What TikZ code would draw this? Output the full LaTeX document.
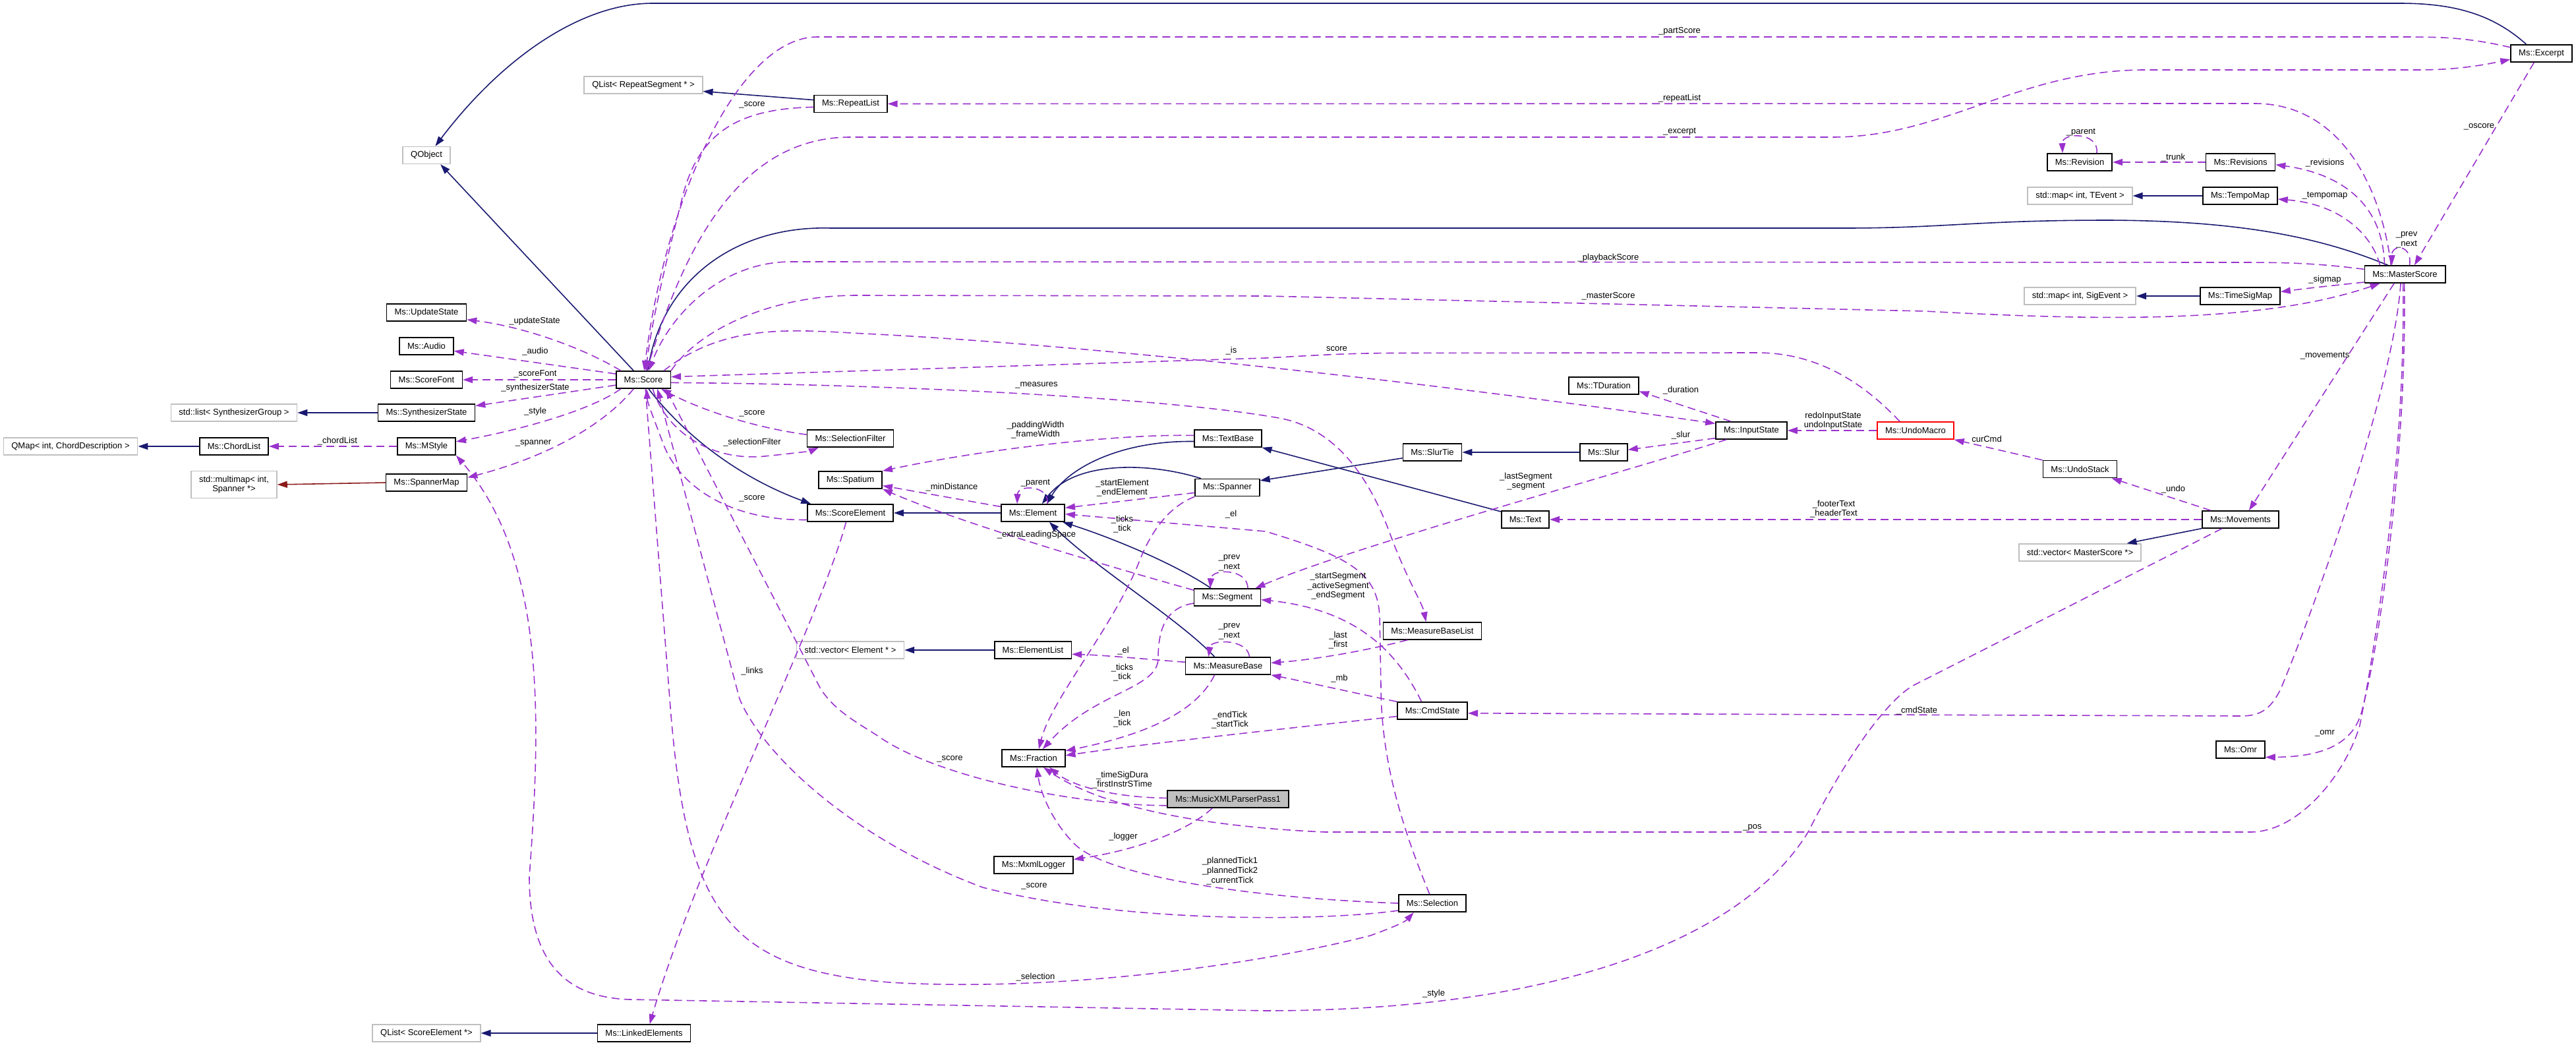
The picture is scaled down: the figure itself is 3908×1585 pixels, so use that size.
\documentclass[tikz,border=0pt]{standalone}
\usepackage{fontspec}
\setmainfont{Liberation Sans}
\usetikzlibrary{arrows.meta}
\definecolor{inhblue}{HTML}{191970}
\definecolor{usepurple}{HTML}{9A32CD}
\definecolor{privred}{HTML}{8B1A1A}
\definecolor{extgray}{HTML}{BFBFBF}
\definecolor{focusgray}{HTML}{BFBFBF}
\newcommand{\dgfont}{\fontsize{3.7}{4.15}\selectfont}

\begin{document}
\begin{tikzpicture}[x=0.01cm,y=-0.01cm,
  cls/.style={draw=black,fill=white,line width=0.45pt,font=\dgfont,inner xsep=0.12cm,inner ysep=0pt,minimum height=0.26cm},
  extcls/.style={cls,draw=extgray},
  inh/.style={draw=inhblue,line width=0.45pt,-{Triangle[length=0.15cm,width=0.1cm]}},
  priv/.style={inh,draw=privred},
  uses/.style={draw=usepurple,line width=0.45pt,dash pattern=on 0.12cm off 0.07cm,-{Triangle[length=0.15cm,width=0.1cm]}},
  lbl/.style={font=\dgfont,align=center,inner sep=0pt}]
  \useasboundingbox (0,0) rectangle (3908,1585);
  \fill[white] (0,0) rectangle (3908,1585);

  \node[extcls] (qobject) at (647,235.5) {QObject};
  \node[extcls] (qlistrep) at (976,129) {QList< RepeatSegment * >};
  \node[extcls] (listsynth) at (355,626) {std::list< SynthesizerGroup >};
  \node[extcls] (qmapchord) at (107,677) {QMap< int, ChordDescription >};
  \node[extcls,minimum height=0.41cm,align=center] (multimap) at (355,735) {std::multimap< int,\\Spanner *>};
  \node[extcls] (vecelem) at (1290,986) {std::vector< Element * >};
  \node[extcls] (qlistse) at (647,1567) {QList< ScoreElement *>};
  \node[extcls] (maptempo) at (3155.5,297) {std::map< int, TEvent >};
  \node[extcls] (mapsig) at (3155.5,449) {std::map< int, SigEvent >};
  \node[extcls] (vecms) at (3155.5,838) {std::vector< MasterScore *>};

  \node[cls] (updatestate) at (647,474) {Ms::UpdateState};
  \node[cls] (audio) at (647,525) {Ms::Audio};
  \node[cls] (scorefont) at (647,576) {Ms::ScoreFont};
  \node[cls] (synthstate) at (647,626) {Ms::SynthesizerState};
  \node[cls] (chordlist) at (355,677) {Ms::ChordList};
  \node[cls] (mstyle) at (647,677) {Ms::MStyle};
  \node[cls] (spannermap) at (647,732) {Ms::SpannerMap};
  \node[cls] (score) at (976,576) {Ms::Score};
  \node[cls] (repeatlist) at (1290.5,157.5) {Ms::RepeatList};
  \node[cls] (selfilter) at (1290,665) {Ms::SelectionFilter};
  \node[cls] (spatium) at (1290,728) {Ms::Spatium};
  \node[cls] (scoreelem) at (1290,778) {Ms::ScoreElement};
  \node[cls] (element) at (1567,778) {Ms::Element};
  \node[cls] (textbase) at (1863,665) {Ms::TextBase};
  \node[cls] (spanner) at (1862,739.5) {Ms::Spanner};
  \node[cls] (segment) at (1862,906) {Ms::Segment};
  \node[cls] (elemlist) at (1567,986) {Ms::ElementList};
  \node[cls] (measurebase) at (1863,1010) {Ms::MeasureBase};
  \node[cls] (fraction) at (1568,1150) {Ms::Fraction};
  \node[cls,fill=focusgray] (parser) at (1863,1212) {Ms::MusicXMLParserPass1};
  \node[cls] (logger) at (1568,1312) {Ms::MxmlLogger};
  \node[cls] (linked) at (977,1567) {Ms::LinkedElements};
  \node[cls] (selection) at (2173,1370) {Ms::Selection};
  \node[cls] (cmdstate) at (2173,1078) {Ms::CmdState};
  \node[cls] (tduration) at (2433,585) {Ms::TDuration};
  \node[cls] (inputstate) at (2657,653) {Ms::InputState};
  \node[cls,draw=red] (undomacro) at (2906,653) {Ms::UndoMacro};
  \node[cls] (slurtie) at (2173,686) {Ms::SlurTie};
  \node[cls] (slur) at (2433,686) {Ms::Slur};
  \node[cls] (text) at (2314,788) {Ms::Text};
  \node[cls] (mblist) at (2173,957) {Ms::MeasureBaseList};
  \node[cls] (excerpt) at (3855.5,81) {Ms::Excerpt};
  \node[cls] (revision) at (3155,246) {Ms::Revision};
  \node[cls] (revisions) at (3399,246) {Ms::Revisions};
  \node[cls] (tempomap) at (3398.5,297) {Ms::TempoMap};
  \node[cls] (masterscore) at (3648.5,416) {Ms::MasterScore};
  \node[cls] (timesigmap) at (3398.5,449) {Ms::TimeSigMap};
  \node[cls] (undostack) at (3155.5,711.6) {Ms::UndoStack};
  \node[cls] (movements) at (3399,788) {Ms::Movements};
  \node[cls] (omr) at (3399,1137) {Ms::Omr};

  \draw[inh] (score.137) -- (qobject.327);
  \draw[inh] (excerpt.149) .. controls (3780,20) and (3720,5) .. (3640,5) -- (990,5) .. controls (880,5) and (760,90) .. (qobject.46);
  \draw[inh] (repeatlist.174) -- (qlistrep.354);
  \draw[inh] (masterscore.152) .. controls (3520,360) and (3400,335) .. (3200,334) .. controls (3000,334) and (2950,346) .. (2800,346) -- (1260,346) .. controls (1120,342) and (1010,420) .. (score.65);
  \draw[inh] (tempomap.west) -- (maptempo.east);
  \draw[inh] (timesigmap.west) -- (mapsig.east);
  \draw[inh] (synthstate.west) -- (listsynth.east);
  \draw[inh] (chordlist.west) -- (qmapchord.east);
  \draw[priv] (spannermap.west) -- (multimap.east);
  \draw[inh] (score.300) .. controls (1030,650) and (1110,720) .. (scoreelem.167);
  \draw[inh] (element.west) -- (scoreelem.east);
  \draw[inh] (textbase.185) .. controls (1700,668) and (1620,710) .. (element.33);
  \draw[inh] (spanner.161) .. controls (1740,700) and (1630,700) .. (element.45);
  \draw[inh] (segment.151) .. controls (1790,860) and (1700,820) .. (element.343);
  \draw[inh] (measurebase.146) .. controls (1790,940) and (1660,860) .. (element.331);
  \draw[inh] (elemlist.west) -- (vecelem.east);
  \draw[inh] (text.162) -- (textbase.345);
  \draw[inh] (slurtie.191) -- (spanner.12);
  \draw[inh] (slur.west) -- (slurtie.east);
  \draw[inh] (movements.193) -- (vecms.11);
  \draw[inh] (linked.west) -- (qlistse.east);

  \draw[uses] (score.158) .. controls (880,525) and (790,495) .. (updatestate.350);
  \draw[uses] (score.168) -- (audio.350);
  \draw[uses] (score.west) -- (scorefont.east);
  \draw[uses] (score.191) -- (synthstate.8);
  \draw[uses] (score.202) .. controls (900,620) and (800,650) .. (mstyle.9);
  \draw[uses] (mstyle.west) -- (chordlist.east);
  \draw[uses] (score.223) .. controls (920,640) and (840,690) .. (spannermap.7);
  \draw[uses] (movements.206) -- (2902,1040) .. controls (2860,1065) and (2800,1150) .. (2743,1262) .. controls (2640,1430) and (2350,1533) .. (1920,1533) -- (956,1516) .. controls (850,1513) and (803,1450) .. (803,1330) .. controls (820,1100) and (830,850) .. (mstyle.south east);
  \draw[uses] (repeatlist.185) .. controls (1120,165) and (1060,200) .. (1035,300) .. controls (1010,400) and (990,480) .. (score.75);
  \draw[uses] (excerpt.169) .. controls (3740,56) and (3700,56) .. (3640,56) -- (1240,56) .. controls (1120,56) and (1010,300) .. (score.85);
  \draw[uses] (score.70) .. controls (1030,400) and (1110,208) .. (1290,208) -- (2780,208) .. controls (2950,208) and (3060,108) .. (3250,106) -- (3670,106) .. controls (3730,106) and (3770,98) .. (excerpt.191);
  \draw[uses] (masterscore.147) .. controls (3615,300) and (3560,157) .. (3420,157) -- (repeatlist.east);
  \draw[uses] (masterscore.173) .. controls (3520,400) and (3480,398) .. (3400,398) -- (1200,397) .. controls (1100,397) and (1020,470) .. (score.60);
  \draw[uses] (score.north east) .. controls (1060,500) and (1170,448) .. (1300,448) -- (1920,449) -- (2920,472) .. controls (3150,484) and (3420,495) .. (masterscore.200);
  \draw[uses] (score.24) .. controls (1100,490) and (1200,500) .. (1310,506) .. controls (1600,520) and (2100,570) .. (inputstate.169);
  \draw[uses] (undomacro.150) .. controls (2840,595) and (2770,535) .. (2666,535) -- (2111,535.5) .. controls (2030,536) and (1980,540) .. (1920,543) -- (score.6);
  \draw[uses] (score.354) .. controls (1300,582) and (1750,600) .. (1940,634) .. controls (2030,650) and (2080,730) .. (2110,813) .. controls (2135,880) and (2158,915) .. (mblist.125);
  \draw[uses] (selfilter.175) .. controls (1140,648) and (1060,620) .. (score.333);
  \draw[uses] (score.316) .. controls (1010,655) and (1080,700) .. (1160,692) .. controls (1200,688) and (1230,684) .. (selfilter.196);
  \draw[uses] (scoreelem.189) .. controls (1110,790) and (1030,740) .. (1005,670) .. controls (990,630) and (982,610) .. (score.290);
  \draw[uses] (textbase.175) .. controls (1700,658) and (1500,680) .. (spatium.north east);
  \draw[uses] (element.169) -- (spatium.350);
  \draw[uses] (segment.168) .. controls (1650,850) and (1450,790) .. (spatium.south east);
  \draw[uses] (element.32) .. controls (1592,735) and (1544,735) .. (element.150);
  \draw[uses] (spanner.189) -- (element.9);
  \draw[uses] (selection.107) .. controls (2125,1250) and (2095,1150) .. (2095,1040) -- (2093,935) .. controls (2090,870) and (2050,845) .. (1920,806) -- (element.358);
  \draw[uses] (spanner.south west) .. controls (1770,770) and (1745,810) .. (1729,850) .. controls (1690,950) and (1595,1060) .. (fraction.60);
  \draw[uses] (segment.24) .. controls (1893,862) and (1838,862) .. (segment.152);
  \draw[uses] (measurebase.23) .. controls (1893,969) and (1837,969) .. (measurebase.155);
  \draw[uses] (measurebase.175) .. controls (1740,1000) and (1680,994) .. (elemlist.354);
  \draw[uses] (segment.190) .. controls (1765,922) and (1757,960) .. (1757,1000) .. controls (1755,1045) and (1660,1050) .. (fraction.45);
  \draw[uses] (measurebase.214) .. controls (1820,1070) and (1760,1110) .. (fraction.13);
  \draw[uses] (cmdstate.189) .. controls (1980,1102) and (1760,1125) .. (fraction.5);
  \draw[uses] (masterscore.245) .. controls (3630,600) and (3500,950) .. (3460,1045) .. controls (3445,1075) and (3430,1086) .. (3400,1086) -- (cmdstate.356);
  \draw[uses] (masterscore.258) .. controls (3650,700) and (3600,1000) .. (3580,1100) .. controls (3560,1170) and (3490,1262) .. (3414,1262) -- (2010,1262) .. controls (1850,1255) and (1680,1230) .. (fraction.317);
  \draw[uses] (masterscore.266) .. controls (3652,700) and (3605,1000) .. (3585,1070) .. controls (3575,1125) and (3530,1148) .. (omr.343);
  \draw[uses] (selection.west) .. controls (1900,1362) and (1680,1330) .. (1630,1280) .. controls (1595,1245) and (1578,1200) .. (fraction.290);
  \draw[uses] (selection.192) .. controls (2000,1398) and (1700,1400) .. (1491,1346) .. controls (1300,1275) and (1160,1150) .. (1122,1060) -- (score.327);
  \draw[uses] (score.283) -- (1016,1060) .. controls (1040,1380) and (1100,1470) .. (1350,1490) .. controls (1600,1505) and (1900,1465) .. (2079,1419) .. controls (2110,1408) and (2132,1398) .. (selection.206);
  \draw[uses] (scoreelem.245) .. controls (1240,950) and (1060,1300) .. (linked.58);
  \draw[uses] (parser.186) .. controls (1640,1222) and (1420,1180) .. (1330,1115) .. controls (1290,1090) and (1265,1075) .. (1245,1045) -- (score.338);
  \draw[uses] (parser.179) .. controls (1700,1210) and (1630,1195) .. (fraction.330);
  \draw[uses] (parser.210) .. controls (1800,1262) and (1720,1290) .. (logger.8);
  \draw[uses] (masterscore.191) .. controls (3550,432) and (3510,436) .. (timesigmap.6);
  \draw[uses] (masterscore.160) .. controls (3600,360) and (3555,310) .. (tempomap.355);
  \draw[uses] (masterscore.156) .. controls (3615,300) and (3540,262) .. (revisions.356);
  \draw[uses] (revisions.west) -- (revision.east);
  \draw[uses] (revision.28) .. controls (3185,200) and (3128,200) .. (revision.152);
  \draw[uses] (masterscore.63) .. controls (3660,370) and (3628,370) .. (masterscore.145);
  \draw[uses] (excerpt.231) -- (masterscore.44);
  \draw[uses] (masterscore.220) -- (movements.47);
  \draw[uses] (movements.163) -- (undostack.344);
  \draw[uses] (undostack.north west) -- (undomacro.south east);
  \draw[uses] (movements.west) -- (text.east);
  \draw[uses] (undomacro.west) -- (inputstate.east);
  \draw[uses] (inputstate.156) -- (tduration.351);
  \draw[uses] (inputstate.192) -- (slur.6);
  \draw[uses] (inputstate.200) .. controls (2450,720) and (2050,830) .. (segment.18);
  \draw[uses] (cmdstate.140) .. controls (2120,990) and (2060,925) .. (segment.356);
  \draw[uses] (cmdstate.north west) .. controls (2050,1050) and (1970,1032) .. (measurebase.south east);
  \draw[uses] (mblist.200) .. controls (2080,985) and (2000,1000) .. (measurebase.4);

  \node[lbl] at (811,487) {\_updateState};
  \node[lbl] at (812,533) {\_audio};
  \node[lbl] at (812,567.5) {\_scoreFont};
  \node[lbl] at (812,588) {\_synthesizerState};
  \node[lbl] at (812,624) {\_style};
  \node[lbl] at (512,669) {\_chordList};
  \node[lbl] at (809,672) {\_spanner};
  \node[lbl] at (1141,159.5) {\_score};
  \node[lbl] at (2548,47.5) {\_partScore};
  \node[lbl] at (2548,149) {\_repeatList};
  \node[lbl] at (2548,200) {\_excerpt};
  \node[lbl] at (2440,391) {\_playbackScore};
  \node[lbl] at (2440,449) {\_masterScore};
  \node[lbl] at (2028,528.6) {score};
  \node[lbl] at (1868,532) {\_is};
  \node[lbl] at (1572.5,584) {\_measures};
  \node[lbl] at (1141,627) {\_score};
  \node[lbl] at (1141,671.5) {\_selectionFilter};
  \node[lbl] at (1571,652) {\_paddingWidth\\\_frameWidth};
  \node[lbl] at (1444,738.7) {\_minDistance};
  \node[lbl] at (1571,733) {\_parent};
  \node[lbl] at (1702.5,740) {\_startElement\\\_endElement};
  \node[lbl] at (1141,756) {\_score};
  \node[lbl] at (1867.5,780) {\_el};
  \node[lbl] at (1702.5,795) {\_ticks\\\_tick};
  \node[lbl] at (1572.5,811) {\_extraLeadingSpace};
  \node[lbl] at (1865,854) {\_prev\\\_next};
  \node[lbl] at (1865,958) {\_prev\\\_next};
  \node[lbl] at (1704,986.6) {\_el};
  \node[lbl] at (1702.5,1020) {\_ticks\\\_tick};
  \node[lbl] at (1141,1018) {\_links};
  \node[lbl] at (1702.5,1090) {\_len\\\_tick};
  \node[lbl] at (1866,1092) {\_endTick\\\_startTick};
  \node[lbl] at (1441,1151) {\_score};
  \node[lbl] at (1702.5,1183) {\_timeSigDura\\\_firstInstrSTime};
  \node[lbl] at (1704,1268.7) {\_logger};
  \node[lbl] at (1866,1321) {\_plannedTick1\\\_plannedTick2\\\_currentTick};
  \node[lbl] at (1569,1344) {\_score};
  \node[lbl] at (1571,1482.5) {\_selection};
  \node[lbl] at (2175,1507) {\_style};
  \node[lbl] at (2658.5,1255) {\_pos};
  \node[lbl] at (2908,1078) {\_cmdState};
  \node[lbl] at (3527,1112) {\_omr};
  \node[lbl] at (2550,591.6) {\_duration};
  \node[lbl] at (2781,638) {redoInputState\\undoInputState};
  \node[lbl] at (2550,660.5) {\_slur};
  \node[lbl] at (2315,730) {\_lastSegment\\\_segment};
  \node[lbl] at (2782,772) {\_footerText\\\_headerText};
  \node[lbl] at (2030,889) {\_startSegment\\\_activeSegment\\\_endSegment};
  \node[lbl] at (2030,971) {\_last\\\_first};
  \node[lbl] at (2032,1028.6) {\_mb};
  \node[lbl] at (3157,201) {\_parent};
  \node[lbl] at (3297,238.7) {\_trunk};
  \node[lbl] at (3527,247) {\_revisions};
  \node[lbl] at (3527,297) {\_tempomap};
  \node[lbl] at (3761,192) {\_oscore};
  \node[lbl] at (3651,364) {\_prev\\\_next};
  \node[lbl] at (3527,424) {\_sigmap};
  \node[lbl] at (3527,539.6) {\_movements};
  \node[lbl] at (3014,666) {curCmd};
  \node[lbl] at (3297,742) {\_undo};
\end{tikzpicture}
\end{document}
